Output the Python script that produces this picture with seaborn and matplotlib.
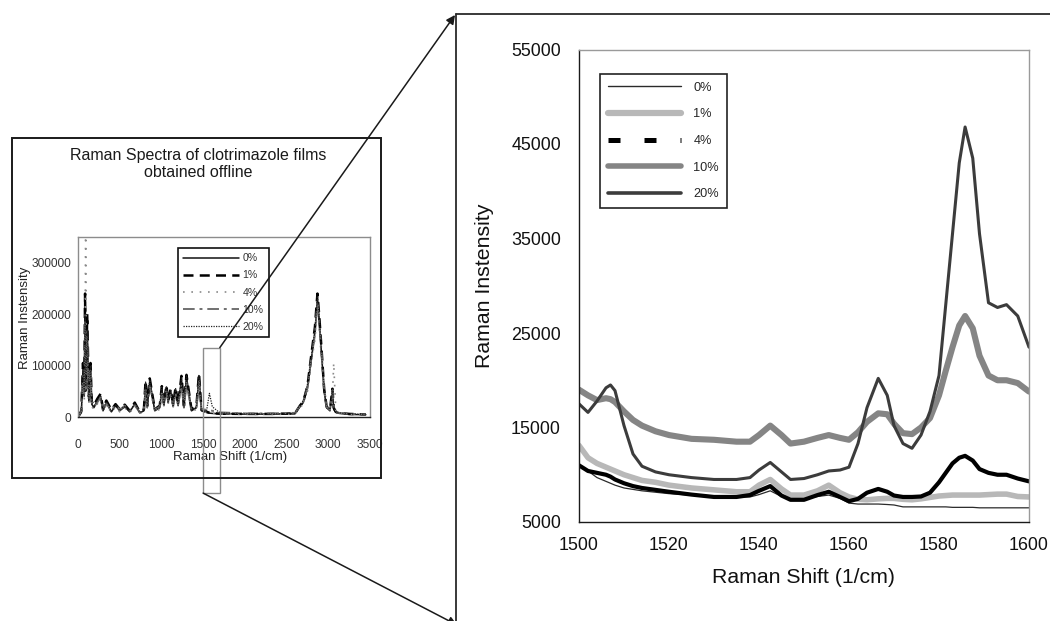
import matplotlib
matplotlib.use("Agg")
import matplotlib.pyplot as plt
import seaborn as sns
from matplotlib.lines import Line2D
from matplotlib.patches import Rectangle, ConnectionPatch

sns.set_style("white")
plt.rcParams["font.family"] = ["Liberation Sans", "DejaVu Sans"]

# ---------------- full spectra (0-3500 1/cm) ----------------
full_shift = [0, 40, 60, 75, 85, 92, 100, 110, 130, 150,
              165, 190, 230, 270, 300, 340, 400, 450, 500, 560,
              620, 680, 740, 790, 810, 830, 860, 920, 980, 1005,
              1030, 1060, 1080, 1110, 1140, 1170, 1200, 1240, 1270, 1300,
              1360, 1420, 1450, 1480, 1540, 1575, 1610, 1700, 2000, 2300,
              2600, 2660, 2700, 2750, 2800, 2840, 2870, 2890, 2920, 2950,
              2980, 3020, 3050, 3065, 3090, 3130, 3250, 3450]

full_0 = [0, 8000, 95000, 40000, 220000, 50000, 80000, 180000, 30000, 95000,
          25000, 18000, 30000, 40000, 12000, 28000, 10000, 22000, 12000, 20000,
          10000, 25000, 8000, 12000, 65000, 18000, 70000, 12000, 18000, 55000,
          22000, 58000, 28000, 50000, 20000, 52000, 22000, 72000, 18000, 78000,
          12000, 18000, 80000, 12000, 9000, 7500, 7000, 6000, 5500, 5500,
          6000, 20000, 28000, 55000, 115000, 165000, 230000, 190000, 120000, 50000,
          18000, 12000, 50000, 15000, 9000, 7000, 5000, 4500]
full_1 = [0, 12000, 105000, 60000, 240000, 70000, 95000, 200000, 40000, 105000,
          30000, 22000, 35000, 45000, 15000, 32000, 14000, 25000, 15000, 24000,
          12000, 28000, 10000, 15000, 70000, 22000, 75000, 15000, 22000, 60000,
          25000, 62000, 30000, 55000, 24000, 58000, 25000, 80000, 22000, 82000,
          15000, 22000, 85000, 14000, 10000, 8500, 7500, 6500, 6000, 6000,
          7000, 22000, 30000, 60000, 125000, 175000, 240000, 200000, 130000, 55000,
          20000, 14000, 55000, 18000, 10000, 8000, 6000, 5000]
full_4 = [0, 6000, 60000, 30000, 150000, 400000, 60000, 150000, 25000, 80000,
          20000, 15000, 25000, 35000, 10000, 24000, 8000, 20000, 10000, 18000,
          8000, 22000, 7000, 10000, 60000, 15000, 62000, 10000, 15000, 50000,
          20000, 52000, 25000, 45000, 18000, 48000, 20000, 65000, 15000, 70000,
          10000, 15000, 72000, 11000, 9000, 8000, 7500, 6000, 5000, 5000,
          5500, 18000, 25000, 50000, 110000, 150000, 215000, 175000, 110000, 60000,
          25000, 15000, 40000, 105000, 12000, 8000, 5000, 4000]
full_10 = [0, 10000, 80000, 45000, 190000, 55000, 85000, 160000, 35000, 90000,
           28000, 20000, 28000, 38000, 14000, 26000, 12000, 24000, 14000, 22000,
           11000, 24000, 9000, 14000, 55000, 20000, 60000, 14000, 20000, 48000,
           24000, 50000, 30000, 42000, 22000, 45000, 24000, 60000, 20000, 65000,
           14000, 20000, 70000, 15000, 14000, 13500, 12000, 9000, 7000, 7000,
           8000, 21000, 30000, 58000, 118000, 160000, 225000, 185000, 125000, 52000,
           20000, 14000, 48000, 20000, 11000, 8000, 6000, 5000]
full_20 = [0, 9000, 90000, 50000, 200000, 60000, 90000, 170000, 32000, 100000,
           27000, 20000, 32000, 42000, 13000, 30000, 11000, 23000, 13000, 21000,
           11000, 26000, 9000, 13000, 68000, 20000, 72000, 13000, 20000, 58000,
           24000, 60000, 29000, 52000, 22000, 55000, 24000, 76000, 20000, 80000,
           13000, 20000, 82000, 13000, 11000, 46000, 20000, 8000, 6000, 6000,
           7000, 23000, 32000, 62000, 120000, 170000, 235000, 195000, 125000, 55000,
           22000, 15000, 52000, 18000, 10000, 8000, 6000, 5000]

# ---------------- expanded region (1500-1600 1/cm) ----------------
zoom_shift = [1500, 1502, 1504, 1506, 1507, 1508, 1510, 1512, 1514, 1517,
              1520, 1525, 1530, 1535, 1538, 1540, 1542.5, 1545, 1547, 1550,
              1553, 1555.5, 1558, 1560, 1562, 1564, 1566.5, 1568.5, 1570, 1572,
              1574, 1576, 1578, 1580, 1581.5, 1583, 1584.5, 1585.8, 1587.5, 1589,
              1591, 1593, 1595, 1597.5, 1600]

zoom_0 = [11100, 10400, 9700, 9300, 9100, 8900, 8600, 8450, 8300, 8150,
          8000, 7850, 7700, 7650, 7650, 7900, 8300, 7700, 7500, 7500,
          7700, 7850, 7500, 7000, 6900, 6900, 6900, 6850, 6800, 6600,
          6600, 6600, 6600, 6600, 6600, 6550, 6550, 6550, 6550, 6500,
          6500, 6500, 6500, 6500, 6500]
zoom_1 = [13100, 11800, 11200, 10800, 10600, 10400, 10000, 9700, 9400, 9200,
          8900, 8600, 8400, 8200, 8200, 8900, 9500, 8500, 7850, 7850,
          8300, 8900, 8100, 7650, 7400, 7350, 7450, 7500, 7500, 7400,
          7350, 7450, 7600, 7750, 7800, 7850, 7850, 7850, 7850, 7850,
          7900, 7950, 7950, 7700, 7650]
zoom_4 = [11000, 10400, 10200, 10000, 9800, 9500, 9100, 8800, 8600, 8400,
          8200, 7900, 7650, 7650, 7850, 8300, 8800, 7800, 7350, 7350,
          7850, 8200, 7650, 7200, 7450, 8100, 8500, 8200, 7800, 7650,
          7650, 7700, 8100, 9200, 10200, 11200, 11800, 12000, 11500, 10600,
          10200, 10000, 10000, 9600, 9300]
zoom_10 = [19000, 18400, 17900, 18100, 18000, 17700, 16700, 15800, 15200, 14600,
           14200, 13800, 13700, 13500, 13500, 14200, 15200, 14200, 13300, 13500,
           13900, 14200, 13900, 13700, 14500, 15600, 16500, 16400, 15400, 14400,
           14300, 15000, 16000, 18400, 21000, 23500, 25800, 26800, 25500, 22600,
           20500, 20000, 20000, 19700, 18800]
zoom_20 = [17500, 16600, 17800, 19200, 19500, 18900, 15200, 12200, 10900, 10300,
           10000, 9700, 9500, 9500, 9700, 10500, 11300, 10300, 9500, 9600,
           10000, 10400, 10500, 10800, 13300, 17100, 20200, 18400, 15200, 13300,
           12800, 14200, 16700, 20500, 28000, 35500, 43000, 46800, 43500, 35500,
           28200, 27700, 28000, 26800, 23500]

labels = ["0%", "1%", "4%", "10%", "20%"]
full_series = [full_0, full_1, full_4, full_10, full_20]
zoom_series = [zoom_0, zoom_1, zoom_4, zoom_10, zoom_20]

# line styles for the overview panel
full_styles = [
    dict(color="#111111", lw=1.1, linestyle="-"),
    dict(color="#000000", lw=1.8, linestyle=(0, (4, 2.5))),
    dict(color="#8a8a8a", lw=1.2, linestyle=(0, (1, 4))),
    dict(color="#707070", lw=1.4, linestyle=(0, (6, 2.5, 1.5, 2.5))),
    dict(color="#222222", lw=0.9, linestyle=(0, (1, 1))),
]
# line styles for the expanded panel
zoom_styles = [
    dict(color="#2a2a2a", lw=0.9),
    dict(color="#b8b8b8", lw=4.0),
    dict(color="#000000", lw=3.0),
    dict(color="#858585", lw=4.4),
    dict(color="#3c3c3c", lw=2.2),
]
zoom_legend_handles = [
    Line2D([], [], color="#2a2a2a", lw=1.0),
    Line2D([], [], color="#b8b8b8", lw=4.5),
    Line2D([], [], color="#000000", lw=3.6, linestyle=(0, (2.4, 4.8))),
    Line2D([], [], color="#858585", lw=4.0),
    Line2D([], [], color="#3c3c3c", lw=2.6),
]

W, H = 1050, 621
fig = plt.figure(figsize=(W / 100, H / 100), dpi=100)


def fx(x):
    return x / W


def fy(y):
    return 1 - y / H


# ---------------- overview panel ----------------
fig.add_artist(Rectangle((fx(12), fy(478)), 369 / W, 340 / H, transform=fig.transFigure,
                         fill=False, edgecolor="#1a1a1a", lw=1.4))
fig.text(fx(198), fy(164), "Raman Spectra of clotrimazole films\nobtained offline",
         ha="center", va="center", fontsize=11.5, color="#1a1a1a", linespacing=1.15)

axL = fig.add_axes([fx(78), fy(417), 292 / W, 180 / H])
for vals, st in zip(full_series, full_styles):
    sns.lineplot(x=full_shift, y=vals, ax=axL, estimator=None, legend=False, **st)
axL.set_xlim(0, 3500)
axL.set_ylim(0, 350000)
axL.set_xticks(range(0, 3501, 500))
axL.set_yticks([0, 100000, 200000, 300000])
axL.tick_params(axis="both", labelsize=8.6, labelcolor="#333333", colors="#555555",
                length=3, width=0.8)
axL.tick_params(axis="x", pad=13)
axL.tick_params(axis="y", pad=2)
for s in axL.spines.values():
    s.set_color("#8c8c8c")
    s.set_linewidth(1.0)
axL.spines["bottom"].set_color("#222222")
axL.set_xlabel("Raman Shift (1/cm)", fontsize=9.5, color="#222222")
axL.set_ylabel("Raman Instensity", fontsize=9.5, color="#222222")
axL.xaxis.set_label_coords(0.52, -0.19)
axL.yaxis.set_label_coords(-0.16, 0.55)

full_handles = [Line2D([], [], **st) for st in full_styles]
legL = axL.legend(full_handles, labels, loc="upper left",
                  bbox_to_anchor=(fx(178), fy(248)), bbox_transform=fig.transFigure,
                  fontsize=7.6, handlelength=5.3, handletextpad=0.3, labelspacing=0.68,
                  borderpad=0.5, fancybox=False, framealpha=1, edgecolor="#111111",
                  borderaxespad=0)
legL.get_frame().set_linewidth(1.2)
for t in legL.get_texts():
    t.set_color("#333333")

# region that is expanded on the right
zoom_lo, zoom_hi = 1500, 1700
axL.add_patch(Rectangle((zoom_lo, -148000), zoom_hi - zoom_lo, 283000, fill=False,
                        edgecolor="#8c8c8c", lw=1.0, clip_on=False, zorder=5))

# ---------------- expanded panel ----------------
fig.add_artist(Line2D([fx(456), fx(1050)], [fy(14), fy(14)], transform=fig.transFigure,
                      color="#2a2a2a", lw=1.3))
fig.add_artist(Line2D([fx(456), fx(456)], [fy(14), fy(621)], transform=fig.transFigure,
                      color="#2a2a2a", lw=1.3))

axR = fig.add_axes([fx(579), fy(522), 450 / W, 472.5 / H])
for vals, st in zip(zoom_series, zoom_styles):
    sns.lineplot(x=zoom_shift, y=vals, ax=axR, estimator=None, legend=False,
                 solid_joinstyle="round", **st)
axR.set_xlim(1500, 1600)
axR.set_ylim(5000, 55000)
axR.set_xticks(range(1500, 1601, 20))
axR.set_yticks(range(5000, 55001, 10000))
axR.tick_params(axis="both", labelsize=12.9, labelcolor="#111111", colors="#222222",
                length=5, width=1.0)
axR.tick_params(axis="x", pad=6)
axR.tick_params(axis="y", pad=8)
for s in axR.spines.values():
    s.set_color("#9a9a9a")
    s.set_linewidth(1.0)
axR.spines["left"].set_color("#1a1a1a")
axR.spines["bottom"].set_color("#1a1a1a")
axR.set_xlabel("Raman Shift (1/cm)", fontsize=15.3, color="#111111")
axR.set_ylabel("Raman Instensity", fontsize=15.3, color="#111111")
axR.xaxis.set_label_coords(0.5, -0.097)
axR.yaxis.set_label_coords(-0.19, 0.5)

legR = axR.legend(zoom_legend_handles, labels, loc="upper left",
                  bbox_to_anchor=(fx(600), fy(74)), bbox_transform=fig.transFigure,
                  fontsize=9.2, handlelength=5.7, handletextpad=1.0, labelspacing=1.15,
                  borderpad=0.6, fancybox=False, framealpha=1, edgecolor="#222222",
                  borderaxespad=0)
legR.get_frame().set_linewidth(1.2)

# connectors from the boxed region to the expanded panel
fig.add_artist(ConnectionPatch(xyA=(zoom_hi, 135000), coordsA=axL.transData,
                               xyB=(fx(455), fy(15)), coordsB=fig.transFigure,
                               arrowstyle="-|>", mutation_scale=13, color="#1a1a1a", lw=1.1))
fig.add_artist(ConnectionPatch(xyA=(zoom_lo, -148000), coordsA=axL.transData,
                               xyB=(fx(457), fy(625)), coordsB=fig.transFigure,
                               arrowstyle="-|>", mutation_scale=13, color="#1a1a1a", lw=1.1))

fig.savefig("out.png", dpi=100)
